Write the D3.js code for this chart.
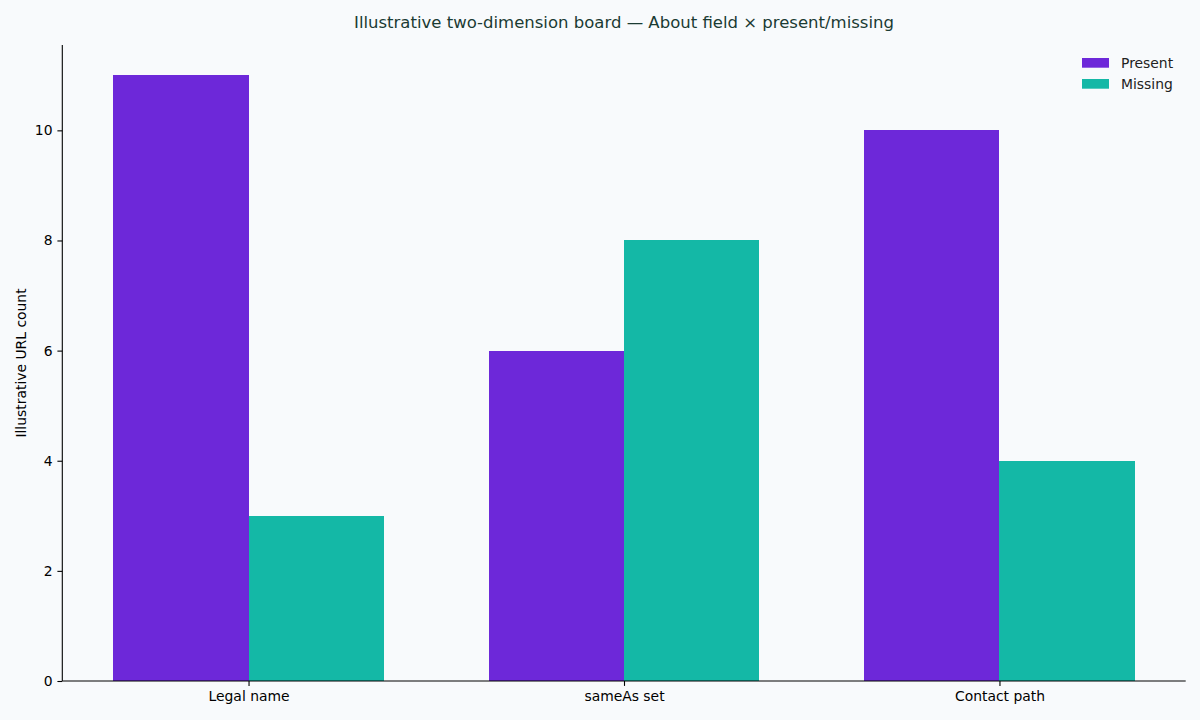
<!DOCTYPE html>
<html>
<head>
<meta charset="utf-8">
<script src="https://cdn.jsdelivr.net/npm/d3@7"></script>
<style>
  html, body { margin: 0; padding: 0; background: #f8fafc; }
  svg { display: block; font-family: 'DejaVu Sans', sans-serif; }
</style>
</head>
<body>
<div id="chart"></div>
<script>
const categories = ['Legal name', 'sameAs set', 'Contact path'];
const seriesNames = ['Present', 'Missing'];
const presentValues = [11, 6, 10];
const missingValues = [3, 8, 4];
const yTicks = [0, 2, 4, 6, 8, 10];
const colors = ['#6d28d9', '#14b8a6'];

const totalW = 1200, totalH = 720;
const margin = { top: 45, right: 14.3, bottom: 39, left: 62.3 };
const width = totalW - margin.left - margin.right;
const height = totalH - margin.top - margin.bottom;

const svg = d3.select('#chart')
  .append('svg')
  .attr('width', totalW)
  .attr('height', totalH);

svg.append('rect')
  .attr('width', totalW).attr('height', totalH)
  .attr('fill', '#f8fafc');

const g = svg.append('g')
  .attr('transform', `translate(${margin.left},${margin.top})`);

// matplotlib-like: bars at index +/- w/2, 5% margins
const barW = 0.36;
const xMin = -barW, xMax = categories.length - 1 + barW;
const xPad = (xMax - xMin) * 0.05;
const x = d3.scaleLinear()
  .domain([xMin - xPad, xMax + xPad])
  .range([0, width]);

const yMax = d3.max([...presentValues, ...missingValues]) * 1.05;
const y = d3.scaleLinear()
  .domain([0, yMax])
  .range([height, 0]);

const series = [presentValues, missingValues];

series.forEach((vals, si) => {
  g.selectAll(`.bar-${si}`)
    .data(vals)
    .join('rect')
    .attr('class', `bar-${si}`)
    .attr('x', (d, i) => x(i + (si === 0 ? -barW : 0)))
    .attr('width', x(barW) - x(0))
    .attr('y', d => y(d))
    .attr('height', d => y(0) - y(d))
    .attr('fill', colors[si])
    .attr('shape-rendering', 'crispEdges');
});

// y axis
const yAxis = g.append('g')
  .call(d3.axisLeft(y).tickValues(yTicks).tickSize(4.9).tickPadding(4.9));
yAxis.select('.domain').attr('stroke', '#000').attr('stroke-width', 1.1)
  .attr('d', `M0,${height}V0`);
yAxis.selectAll('.tick line').attr('stroke', '#000').attr('stroke-width', 1.1);
yAxis.selectAll('.tick text')
  .attr('font-size', 13.9).attr('fill', '#000')
  .attr('font-family', 'DejaVu Sans, sans-serif');

// x axis
const xAxis = g.append('g')
  .attr('transform', `translate(0,${height})`)
  .call(d3.axisBottom(x)
    .tickValues(d3.range(categories.length))
    .tickFormat(i => categories[i])
    .tickSize(4.9).tickPadding(4.9));
xAxis.select('.domain').attr('stroke', '#000').attr('stroke-width', 1.1)
  .attr('d', `M0,0H${width}`);
xAxis.selectAll('.tick line').attr('stroke', '#000').attr('stroke-width', 1.1);
xAxis.selectAll('.tick text')
  .attr('font-size', 13.9).attr('fill', '#000')
  .attr('font-family', 'DejaVu Sans, sans-serif');

// y label
svg.append('text')
  .attr('transform', `translate(26,${margin.top + height / 2}) rotate(-90)`)
  .attr('text-anchor', 'middle')
  .attr('font-size', 13.9)
  .attr('fill', '#000')
  .text('Illustrative URL count');

// title
svg.append('text')
  .attr('x', margin.left + width / 2)
  .attr('y', 28)
  .attr('text-anchor', 'middle')
  .attr('font-size', 16.5)
  .attr('fill', '#1b3b33')
  .text('Illustrative two-dimension board — About field × present/missing');

// legend
const legend = svg.append('g')
  .attr('transform', 'translate(1082,58)');
seriesNames.forEach((name, i) => {
  const item = legend.append('g')
    .attr('transform', `translate(0,${i * 21})`);
  item.append('rect')
    .attr('width', 27).attr('height', 9.7)
    .attr('fill', colors[i]);
  item.append('text')
    .attr('x', 39).attr('y', 9.7)
    .attr('font-size', 13.9)
    .attr('fill', '#222')
    .text(name);
});
</script>
</body>
</html>
